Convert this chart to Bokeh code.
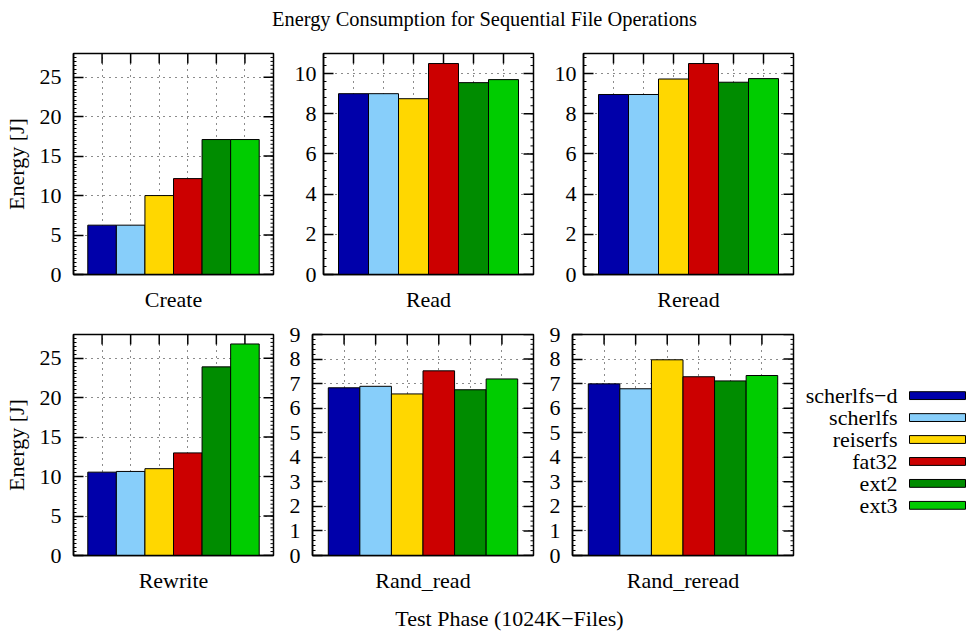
import math
import numpy as np
from bokeh.plotting import figure
from bokeh.layouts import column, row
from bokeh.models import Range1d, FixedTicker, SingleIntervalTicker, Label
from bokeh.core.properties import value
from bokeh.embed import file_html
from bokeh.resources import INLINE

# ---------------- data ----------------
title_text = "Energy Consumption for Sequential File Operations"
x_title = "Test Phase (1024K\u2212Files)"
y_title = "Energy [J]"
phases = ["Create", "Read", "Reread", "Rewrite", "Rand_read", "Rand_reread"]
series = ["scherlfs\u2212d", "scherlfs", "reiserfs", "fat32", "ext2", "ext3"]
colors = ["#0000AA", "#87CEFA", "#FFD700", "#CC0000", "#008C00", "#00CC00"]

create = [6.25, 6.25, 10.0, 12.15, 17.1, 17.1]
read = [9.0, 9.0, 8.75, 10.5, 9.55, 9.7]
reread = [8.96, 8.96, 9.73, 10.5, 9.57, 9.75]
rewrite = [10.56, 10.65, 11.0, 13.0, 23.9, 26.8]
rand_read = [6.83, 6.89, 6.58, 7.52, 6.75, 7.19]
rand_reread = [6.99, 6.79, 7.97, 7.28, 7.11, 7.33]

y_max = [28, 11, 11, 28, 9, 9]
y_step = [5, 2, 2, 5, 1, 1]

FONT = "Liberation Serif"
FS = "22px"


def panel(name, vals, ymax, step, minor, bl, fw, br, bt, bb, ylabel=None, standoff=10):
    n = len(vals)
    xs = list(range(1, n + 1))
    xmax = n + 1
    p = figure(frame_width=fw, frame_height=221, x_range=Range1d(0, xmax),
               y_range=Range1d(0, ymax), output_backend="svg", toolbar_location=None,
               min_border_left=bl, min_border_right=br, min_border_top=bt,
               min_border_bottom=bb)
    p.background_fill_color = "white"
    p.border_fill_color = "white"
    p.outline_line_color = "black"
    p.outline_line_width = 1.5
    p.outline_line_alpha = 1

    # mirrored tick marks on the top and right edges (clipped to the frame)
    major_y = np.arange(0, ymax + 1e-9, step)
    minor_y = np.arange(0, ymax + 1e-9, step / minor)
    p.scatter(x=xs, y=[ymax] * n, marker="dash", size=20, angle=math.pi / 2,
              line_color="black", line_width=1.5)
    p.scatter(x=[xmax] * len(major_y), y=major_y, marker="dash", size=20,
              line_color="black", line_width=1.5)
    p.scatter(x=[xmax] * len(minor_y), y=minor_y, marker="dash", size=6,
              line_color="black", line_width=1)

    p.vbar(x=xs, top=vals, width=1, bottom=0, fill_color=colors,
           line_color="black", line_width=1)

    # bottom axis: only the category name
    xa = p.xaxis[0]
    xa.ticker = FixedTicker(ticks=[])
    xa.major_tick_line_color = None
    xa.minor_tick_line_color = None
    xa.axis_line_color = "black"
    xa.axis_line_width = 1.5
    xa.axis_label = name
    xa.axis_label_text_font = FONT
    xa.axis_label_text_font_size = FS
    xa.axis_label_text_font_style = "normal"
    xa.axis_label_text_color = "black"
    xa.axis_label_standoff = 12

    # left axis
    ya = p.yaxis[0]
    ya.ticker = SingleIntervalTicker(interval=step, num_minor_ticks=minor)
    ya.major_tick_in = 10
    ya.major_tick_out = 0
    ya.major_tick_line_width = 1.5
    ya.minor_tick_in = 3
    ya.minor_tick_out = 0
    ya.axis_line_color = "black"
    ya.axis_line_width = 1.5
    ya.major_label_text_font = FONT
    ya.major_label_text_font_size = FS
    ya.major_label_text_color = "black"
    ya.major_label_standoff = standoff
    if ylabel:
        ya.axis_label = ylabel
        ya.axis_label_text_font = FONT
        ya.axis_label_text_font_size = FS
        ya.axis_label_text_font_style = "normal"
        ya.axis_label_text_color = "black"
        ya.axis_label_standoff = 8

    # grid
    p.xgrid.ticker = FixedTicker(ticks=xs)
    for g in (p.xgrid[0], p.ygrid[0]):
        g.grid_line_color = "black"
        g.grid_line_dash = "1 5"
        g.grid_line_width = 1
        g.grid_line_alpha = 0.9
    return p


p1 = panel(phases[0], create, y_max[0], y_step[0], 10, 73, 200, 12, 15, 44, y_title, 12)
p2 = panel(phases[1], read, y_max[1], y_step[1], 5, 38, 210, 12, 15, 44, None, 7)
p3 = panel(phases[2], reread, y_max[2], y_step[2], 5, 38, 210, 175, 15, 44, None, 7)
p4 = panel(phases[3], rewrite, y_max[3], y_step[3], 10, 73, 200, 12, 16, 45, y_title, 12)
p5 = panel(phases[4], rand_read, y_max[4], y_step[4], 5, 27, 221, 12, 16, 45, None, 12)
p6 = panel(phases[5], rand_reread, y_max[5], y_step[5], 5, 27, 221, 7, 16, 45, None, 12)


def blank(w, h, xr, yr):
    f = figure(width=w, height=h, x_range=xr, y_range=yr, output_backend="svg",
               toolbar_location=None, min_border=0, x_axis_location=None,
               y_axis_location=None)
    f.xgrid.visible = False
    f.ygrid.visible = False
    f.outline_line_color = None
    f.background_fill_color = "white"
    f.border_fill_color = "white"
    return f


# title
pt = blank(968, 38, Range1d(0, 968), Range1d(0, 38))
pt.add_layout(Label(x=484, y=20, text=title_text, text_align="center",
                    text_baseline="alphabetic", text_font=FONT, text_font_size="20.4px",
                    text_color="black"))

# x title
px = blank(968, 31, Range1d(0, 968), Range1d(0, 31))
px.add_layout(Label(x=509, y=13, text=x_title, text_align="center",
                    text_baseline="alphabetic", text_font=FONT, text_font_size=FS,
                    text_color="black"))

# legend panel
pl = blank(168, 282, Range1d(0, 168), Range1d(282, 0))
ly = [78 + 28 * i for i in range(len(series))]
pl.quad(left=[109] * len(series), right=[165] * len(series),
        top=[y - 5 for y in ly], bottom=[y + 5 for y in ly],
        fill_color=colors, line_color="black", line_width=1)
pl.text(x=[97] * len(series), y=ly, text=series, text_align="right",
        text_baseline="middle", text_font=value(FONT), text_font_size=FS,
        text_color="black")

layout = column(pt, row(p1, p2, p3), row(p4, p5, p6, pl), px, spacing=0)
open("out.html", "w").write(file_html(layout, INLINE))
